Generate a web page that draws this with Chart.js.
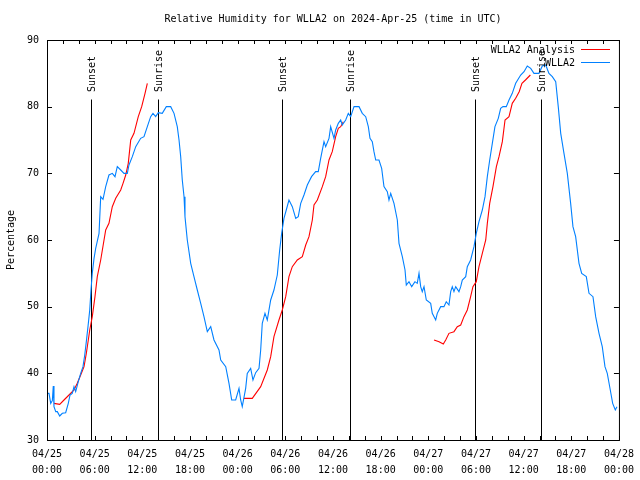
<!DOCTYPE html>
<html><head><meta charset="utf-8">
<script src="https://cdn.jsdelivr.net/npm/chart.js@4"></script>
<style>html,body{margin:0;padding:0;background:#fff}canvas{display:block}</style>
</head><body>
<canvas id="c" width="640" height="480"></canvas>
<script>
const FONT = "'DejaVu Sans Mono', 'Liberation Mono', monospace";
const titleText = 'Relative Humidity for WLLA2 on 2024-Apr-25 (time in UTC)';
const seriesNames = ['WLLA2 Analysis', 'WLLA2'];

// x axis: hours since 04/25 00:00 UTC
const xTickHours = [0, 6, 12, 18, 24, 30, 36, 42, 48, 54, 60, 66, 72];
const xTickLabels = [
  ['04/25', '00:00'], ['04/25', '06:00'], ['04/25', '12:00'], ['04/25', '18:00'],
  ['04/26', '00:00'], ['04/26', '06:00'], ['04/26', '12:00'], ['04/26', '18:00'],
  ['04/27', '00:00'], ['04/27', '06:00'], ['04/27', '12:00'], ['04/27', '18:00'],
  ['04/28', '00:00']
];
const yTicks = [30, 40, 50, 60, 70, 80, 90];

// WLLA2 observations (blue)
const blueHours = [0.04, 0.25, 0.47, 0.67, 0.79, 0.88, 1.10, 1.30, 1.60, 1.93, 2.35, 2.68, 2.90, 3.18, 3.40, 3.61, 3.94, 4.24, 4.53, 4.75, 4.95, 5.16, 5.38, 5.54, 5.70, 5.92, 6.13, 6.55, 6.76, 7.05, 7.39, 7.80, 8.22, 8.56, 8.85, 9.28, 9.69, 10.11, 10.32, 10.74, 11.17, 11.79, 12.21, 12.63, 13.05, 13.34, 13.68, 14.01, 14.51, 15.02, 15.57, 15.99, 16.40, 16.62, 16.83, 17.03, 17.25, 17.37, 17.66, 18.09, 18.50, 18.92, 19.35, 19.76, 20.18, 20.61, 21.02, 21.65, 21.87, 22.50, 22.91, 23.25, 23.75, 24.17, 24.38, 24.58, 25.01, 25.21, 25.64, 25.93, 26.27, 26.69, 26.90, 27.10, 27.44, 27.73, 28.16, 28.57, 28.99, 29.29, 29.54, 29.83, 30.12, 30.46, 30.88, 31.31, 31.63, 31.94, 32.35, 32.77, 33.30, 33.82, 34.15, 34.45, 34.87, 35.08, 35.50, 35.71, 36.13, 36.34, 36.67, 36.97, 37.17, 37.60, 37.93, 38.23, 38.65, 39.28, 39.69, 40.12, 40.45, 40.66, 40.95, 41.16, 41.38, 41.79, 42.13, 42.42, 42.84, 43.05, 43.27, 43.68, 44.10, 44.31, 44.73, 45.07, 45.23, 45.57, 45.91, 46.32, 46.61, 46.83, 47.04, 47.24, 47.46, 47.75, 48.30, 48.50, 48.93, 49.13, 49.56, 49.97, 50.26, 50.60, 50.82, 51.02, 51.23, 51.45, 51.86, 52.08, 52.28, 52.71, 52.91, 53.33, 53.75, 54.04, 54.38, 54.80, 55.14, 55.43, 55.73, 56.06, 56.39, 56.81, 57.11, 57.40, 57.82, 58.16, 58.57, 59.00, 59.63, 60.05, 60.46, 60.89, 61.30, 61.93, 62.35, 62.78, 63.19, 63.61, 64.04, 64.36, 64.67, 65.08, 65.50, 65.92, 66.21, 66.55, 66.97, 67.31, 67.89, 68.23, 68.73, 69.07, 69.49, 69.90, 70.24, 70.53, 70.91, 71.21, 71.54, 71.75];
const blueValues = [37.0, 37.0, 35.5, 35.9, 38.1, 35.0, 34.25, 34.25, 33.6, 34.0, 34.1, 35.5, 36.75, 37.0, 38.0, 37.25, 38.75, 40.0, 41.0, 42.75, 44.75, 47.0, 49.5, 52.5, 55.0, 57.25, 58.75, 61.0, 66.5, 66.1, 68.0, 69.75, 70.0, 69.5, 71.0, 70.5, 70.0, 70.0, 71.25, 72.5, 74.0, 75.25, 75.5, 77.0, 78.5, 79.0, 78.5, 79.1, 79.0, 80.0, 80.0, 79.0, 77.0, 75.0, 72.5, 69.0, 66.5, 63.5, 60.0, 56.5, 54.5, 52.5, 50.5, 48.5, 46.25, 47.0, 45.0, 43.5, 42.0, 41.0, 38.5, 36.0, 36.0, 37.75, 36.0, 35.0, 37.75, 40.0, 40.75, 39.0, 40.1, 40.75, 43.5, 47.5, 49.0, 48.0, 51.0, 52.5, 54.75, 58.5, 61.0, 63.25, 64.5, 66.0, 65.0, 63.25, 63.5, 65.5, 66.75, 68.25, 69.5, 70.25, 70.25, 72.25, 74.75, 74.0, 75.25, 77.0, 75.25, 76.5, 77.5, 78.0, 77.25, 78.0, 79.0, 78.5, 80.0, 80.0, 79.0, 78.5, 77.0, 75.25, 74.75, 73.25, 72.0, 72.0, 70.75, 68.0, 67.25, 66.0, 67.0, 65.5, 63.0, 59.5, 57.5, 55.5, 53.25, 53.75, 53.0, 53.75, 53.5, 55.0, 53.0, 52.25, 53.0, 51.0, 50.5, 49.0, 48.0, 49.0, 50.0, 50.0, 50.75, 50.25, 52.25, 53.0, 52.25, 53.0, 52.25, 53.0, 54.0, 54.5, 56.0, 57.0, 59.0, 61.0, 62.75, 64.5, 66.5, 69.5, 72.0, 74.5, 77.0, 78.25, 79.75, 80.0, 80.0, 81.0, 82.0, 83.5, 84.75, 85.25, 86.1, 85.75, 85.0, 85.0, 86.1, 86.25, 85.0, 84.5, 83.75, 80.0, 76.0, 73.0, 70.0, 65.5, 62.0, 60.5, 56.5, 55.0, 54.5, 52.0, 51.5, 48.5, 46.0, 44.0, 41.0, 40.0, 37.5, 35.5, 34.5, 35.0];

// WLLA2 Analysis (red); null marks a gap
const redHours = [0.88, 1.60, 2.14, 2.77, 3.40, 3.81, 4.24, 4.66, 4.95, 5.20, 5.38, 5.70, 6.04, 6.33, 6.76, 7.39, 7.80, 8.22, 8.65, 9.28, 9.57, 9.91, 10.23, 10.54, 10.95, 11.49, 11.92, 12.34, 12.63,
  18.0,
  24.80, 25.84, 26.90, 27.73, 28.16, 28.57, 29.20, 29.62, 30.05, 30.46, 30.88, 31.51, 32.14, 32.57, 32.98, 33.40, 33.61, 34.03, 34.66, 35.08, 35.50, 35.91, 36.34, 36.67, 36.97, 37.30,
  43.0,
  48.72, 49.35, 49.89, 50.19, 50.60, 51.23, 51.65, 52.08, 52.49, 52.91, 53.33, 53.62, 54.04, 54.38, 54.80, 55.23, 55.43, 55.73, 56.14, 56.57, 56.90, 57.32, 57.66, 58.16, 58.57, 59.00, 59.44, 59.79, 60.23, 60.85];
const redValues = [35.5, 35.35, 36.0, 36.75, 37.5, 38.5, 39.75, 41.0, 43.0, 45.0, 46.5, 48.5, 51.5, 54.5, 57.0, 61.5, 62.5, 65.0, 66.25, 67.5, 68.5, 69.75, 71.5, 75.0, 76.0, 78.5, 80.0, 82.0, 83.5,
  null,
  36.25, 36.25, 38.0, 40.5, 42.5, 45.5, 48.0, 49.5, 51.5, 54.5, 56.0, 57.0, 57.5, 59.25, 60.5, 63.0, 65.25, 66.0, 68.0, 69.5, 72.0, 73.25, 75.5, 76.75, 77.0, 77.75,
  null,
  45.0, 44.75, 44.4, 45.0, 46.0, 46.25, 47.0, 47.25, 48.5, 49.5, 51.5, 53.0, 53.75, 56.0, 58.0, 60.0, 62.5, 65.5, 68.0, 71.0, 72.5, 74.75, 78.0, 78.5, 80.5, 81.25, 82.25, 83.5, 84.0, 84.75];

// Sun events (hours since 04/25 00:00 UTC)
const sunsetHours = [5.6, 29.62, 53.92];
const sunriseHours = [14.0, 38.18, 62.23];
const sunLineTop = 81.2;

const BLUE = '#0080ff';
const RED = '#ff0000';

const gnuplotFrame = {
  id: 'gnuplotFrame',
  beforeDatasetsDraw(chart) {
    const {ctx, chartArea: a, scales: {x, y}} = chart;
    ctx.save();
    ctx.strokeStyle = '#000';
    ctx.lineWidth = 1;
    const yTop = Math.round(y.getPixelForValue(sunLineTop)) + 0.5;
    sunsetHours.concat(sunriseHours).forEach(t => {
      const px = Math.round(x.getPixelForValue(t)) + 0.5;
      ctx.beginPath(); ctx.moveTo(px, a.bottom); ctx.lineTo(px, yTop); ctx.stroke();
    });
    ctx.restore();
  },
  afterDraw(chart) {
    const {ctx, chartArea: a, scales: {x, y}} = chart;
    ctx.save();
    ctx.strokeStyle = '#000';
    ctx.lineWidth = 1;
    ctx.strokeRect(a.left + 0.5, a.top + 0.5, a.right - a.left, a.bottom - a.top);
    ctx.beginPath();
    for (let h = 0; h <= 72; h += 2) {
      const px = Math.round(x.getPixelForValue(h)) + 0.5;
      ctx.moveTo(px, a.bottom); ctx.lineTo(px, a.bottom - 4);
      ctx.moveTo(px, a.top); ctx.lineTo(px, a.top + 4);
    }
    yTicks.forEach(v => {
      const py = Math.round(y.getPixelForValue(v)) + 0.5;
      ctx.moveTo(a.left, py); ctx.lineTo(a.left + 5, py);
      ctx.moveTo(a.right, py); ctx.lineTo(a.right - 5, py);
    });
    ctx.stroke();

    ctx.fillStyle = '#000';
    ctx.font = '10px ' + FONT;
    const yTop = Math.round(y.getPixelForValue(sunLineTop));
    const drawSun = (t, label) => {
      const px = Math.round(x.getPixelForValue(t)) + 1;
      ctx.save();
      ctx.translate(px, yTop - 7);
      ctx.rotate(-Math.PI / 2);
      ctx.textAlign = 'left';
      ctx.textBaseline = 'middle';
      ctx.fillText(label, 0, 0);
      ctx.restore();
    };
    sunsetHours.forEach(t => drawSun(t, 'Sunset'));
    sunriseHours.forEach(t => drawSun(t, 'Sunrise'));

    // legend (gnuplot style, top right inside)
    ctx.textAlign = 'right';
    ctx.textBaseline = 'middle';
    const colors = [RED, BLUE];
    const rows = [50, 63];
    seriesNames.forEach((n, i) => {
      ctx.fillStyle = '#000';
      ctx.fillText(n, 575, rows[i]);
      ctx.strokeStyle = colors[i];
      ctx.beginPath();
      ctx.moveTo(581, rows[i] - 0.5); ctx.lineTo(610, rows[i] - 0.5);
      ctx.stroke();
    });
    ctx.restore();
  }
};

const tickFont = {family: FONT, size: 10, lineHeight: 1.6};

new Chart(document.getElementById('c'), {
  type: 'line',
  data: {
    datasets: [
      {
        label: seriesNames[1],
        data: blueHours.map((h, i) => ({x: h, y: blueValues[i]})),
        borderColor: BLUE, borderWidth: 1.1, pointRadius: 0, tension: 0, fill: false
      },
      {
        label: seriesNames[0],
        data: redHours.map((h, i) => ({x: h, y: redValues[i]})),
        borderColor: RED, borderWidth: 1.1, pointRadius: 0, tension: 0, fill: false, spanGaps: false
      }
    ]
  },
  options: {
    responsive: false,
    animation: false,
    events: [],
    layout: {padding: {left: 0, right: 20, top: 0, bottom: 0}},
    plugins: {
      legend: {display: false},
      tooltip: {enabled: false},
      title: {
        display: true, text: titleText, color: '#000', fullSize: false,
        font: {family: FONT, size: 10, weight: 'normal', lineHeight: 1.2},
        padding: {top: 13, bottom: 15}
      }
    },
    scales: {
      x: {
        type: 'linear', min: 0, max: 72,
        afterBuildTicks: s => { s.ticks = xTickHours.map(v => ({value: v})); },
        afterFit: s => { s.height = 40; },
        ticks: {
          autoSkip: false, maxRotation: 0, minRotation: 0, padding: 6, color: '#000', font: tickFont,
          callback: (v, i) => xTickLabels[i]
        },
        grid: {display: false, drawTicks: false},
        border: {display: false}
      },
      y: {
        type: 'linear', min: 30, max: 90,
        afterBuildTicks: s => { s.ticks = yTicks.map(v => ({value: v})); },
        afterFit: s => { s.width = 47; },
        ticks: {padding: 8, color: '#000', font: {family: FONT, size: 10}},
        grid: {display: false, drawTicks: false},
        border: {display: false},
        title: {
          display: true, text: 'Percentage', color: '#000',
          font: {family: FONT, size: 10, lineHeight: 1.2}, padding: {top: 5, bottom: 0}
        }
      }
    }
  },
  plugins: [gnuplotFrame]
});
</script>
</body></html>
